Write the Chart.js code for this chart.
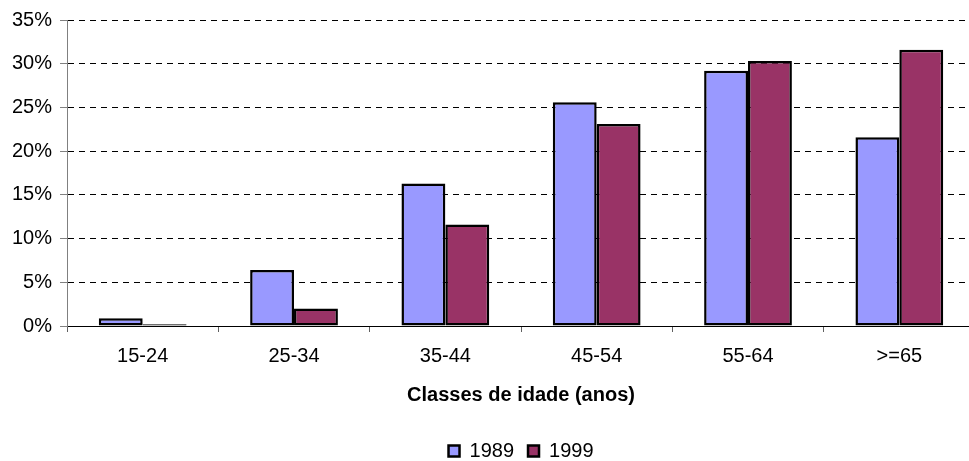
<!DOCTYPE html>
<html>
<head>
<meta charset="utf-8">
<script src="https://cdn.jsdelivr.net/npm/chart.js@4/dist/chart.umd.min.js"></script>
<style>
html,body{margin:0;padding:0;overflow:hidden;background:#fff;}
#wrap{position:absolute;left:0;top:0;width:969px;height:461px;overflow:hidden;}
#c{position:absolute;left:0;top:0;}
</style>
</head>
<body>
<div id="wrap"><canvas id="c" width="975" height="471"></canvas></div>
<script>
const categories = ["15-24", "25-34", "35-44", "45-54", "55-64", ">=65"];
const values1989 = [0.9, 6.4, 16.3, 25.6, 29.2, 21.6];
const values1999 = [0.2, 2.0, 11.6, 23.1, 30.3, 31.6];
const seriesNames = ["1989", "1999"];
const yTicks = [0, 5, 10, 15, 20, 25, 30, 35];
const xTitle = "Classes de idade (anos)";

const FONT = "'Liberation Sans', Arial, sans-serif";
Chart.defaults.font.family = FONT;
Chart.defaults.font.size = 20;
Chart.defaults.color = '#000';

new Chart(document.getElementById('c'), {
  type: 'bar',
  data: {
    labels: categories,
    datasets: [
      { label: seriesNames[0], data: values1989, backgroundColor: '#9999FF', borderColor: '#000', borderWidth: 2.5, borderSkipped: false },
      { label: seriesNames[1], data: values1999, backgroundColor: '#993366', borderColor: '#000', borderWidth: 2.5, borderSkipped: false }
    ]
  },
  options: {
    responsive: false,
    animation: false,
    devicePixelRatio: 1,
    layout: { padding: { top: 8, right: 0, left: 4, bottom: 0 } },
    datasets: { bar: { categoryPercentage: 0.58, barPercentage: 1.0 } },
    plugins: {
      legend: {
        position: 'bottom',
        fullSize: false,
        labels: { boxWidth: 11, boxHeight: 11, padding: 14, font: { size: 20 }, color: '#000' }
      },
      tooltip: { enabled: false }
    },
    scales: {
      x: {
        grid: { offset: true, drawOnChartArea: false, tickLength: 6, tickColor: '#606060' },
        border: { color: '#000', width: 1 },
        ticks: { padding: 12, font: { size: 20 }, color: '#000' },
        title: { display: true, text: xTitle, font: { size: 20, weight: 'bold' }, color: '#000', padding: { top: 3, bottom: 20 } }
      },
      y: {
        min: 0, max: 35,
        afterBuildTicks: (axis) => { axis.ticks = yTicks.map(v => ({ value: v })); },
        grid: { color: '#000', lineWidth: 1, tickLength: 7, tickColor: '#808080', tickBorderDash: [] },
        border: { color: '#808080', width: 1, dash: [6, 5] },
        ticks: { padding: 8, font: { size: 20 }, color: '#000', callback: (v) => v + '%' }
      }
    }
  }
});
</script>
</body>
</html>
